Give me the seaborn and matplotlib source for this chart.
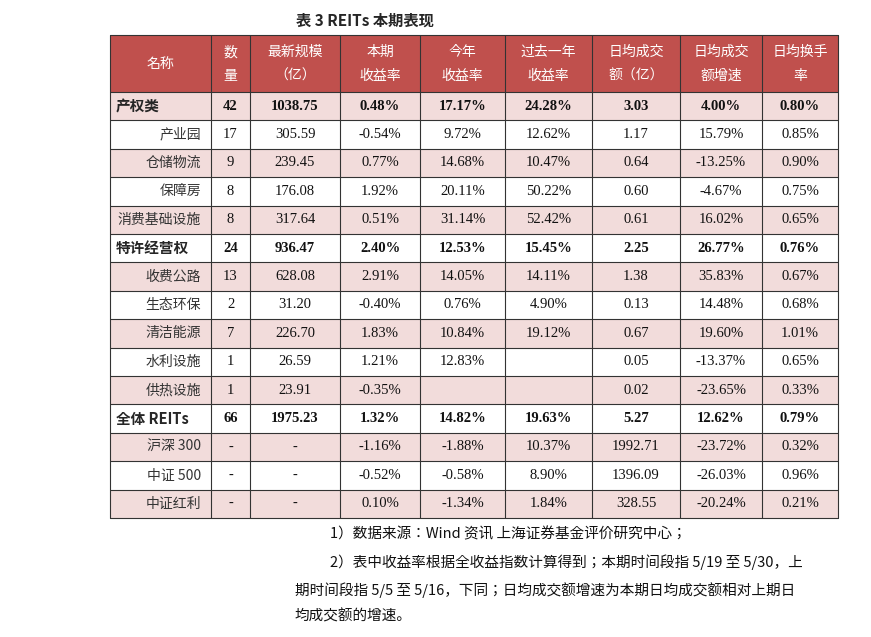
import matplotlib.pyplot as plt
import seaborn as sns
from matplotlib.patches import Rectangle
from matplotlib import font_manager as fm

sns.set_theme(style="white")
plt.rcParams["font.family"] = "Liberation Serif"

# locate a CJK font file directly
cjk_file = None
for f in fm.findSystemFonts():
    if "NotoSansCJK" in f.replace(" ", "") or "NotoSansSC" in f.replace(" ", ""):
        cjk_file = f
        if "SC" in f or ".ttc" in f:
            break
if cjk_file:
    fm.fontManager.addfont(cjk_file)
    CJK_NAME = fm.FontProperties(fname=cjk_file).get_name()
else:
    CJK_NAME = "Noto Sans CJK SC"

# table data
headers = [["名称"], ["数", "量"], ["最新规模", "（亿）"], ["本期", "收益率"], ["今年", "收益率"],
           ["过去一年", "收益率"], ["日均成交", "额（亿）"], ["日均成交", "额增速"], ["日均换手", "率"]]
names = ["产权类", "产业园", "仓储物流", "保障房", "消费基础设施", "特许经营权", "收费公路", "生态环保",
         "清洁能源", "水利设施", "供热设施", "全体 REITs", "沪深 300", "中证 500", "中证红利"]
bold_rows = {"产权类", "特许经营权", "全体 REITs"}
counts = ["42", "17", "9", "8", "8", "24", "13", "2", "7", "1", "1", "66", "-", "-", "-"]
scale = ["1038.75", "305.59", "239.45", "176.08", "317.64", "936.47", "628.08", "31.20", "226.70",
         "26.59", "23.91", "1975.23", "-", "-", "-"]
ret_period = ["0.48%", "-0.54%", "0.77%", "1.92%", "0.51%", "2.40%", "2.91%", "-0.40%", "1.83%",
              "1.21%", "-0.35%", "1.32%", "-1.16%", "-0.52%", "0.10%"]
ret_ytd = ["17.17%", "9.72%", "14.68%", "20.11%", "31.14%", "12.53%", "14.05%", "0.76%", "10.84%",
           "12.83%", "", "14.82%", "-1.88%", "-0.58%", "-1.34%"]
ret_1y = ["24.28%", "12.62%", "10.47%", "50.22%", "52.42%", "15.45%", "14.11%", "4.90%", "19.12%",
          "", "", "19.63%", "10.37%", "8.90%", "1.84%"]
turnover_amt = ["3.03", "1.17", "0.64", "0.60", "0.61", "2.25", "1.38", "0.13", "0.67", "0.05",
                "0.02", "5.27", "1992.71", "1396.09", "328.55"]
turnover_growth = ["4.00%", "15.79%", "-13.25%", "-4.67%", "16.02%", "26.77%", "35.83%", "14.48%",
                   "19.60%", "-13.37%", "-23.65%", "12.62%", "-23.72%", "-26.03%", "-20.24%"]
turnover_rate = ["0.80%", "0.85%", "0.90%", "0.75%", "0.65%", "0.76%", "0.67%", "0.68%", "1.01%",
                 "0.65%", "0.33%", "0.79%", "0.32%", "0.96%", "0.21%"]
notes = ["1）数据来源：Wind 资讯 上海证券基金评价研究中心；",
         "2）表中收益率根据全收益指数计算得到；本期时间段指 5/19 至 5/30，上",
         "期时间段指 5/5 至 5/16，下同；日均成交额增速为本期日均成交额相对上期日",
         "均成交额的增速。"]

columns = [names, counts, scale, ret_period, ret_ytd, ret_1y, turnover_amt, turnover_growth, turnover_rate]

# layout (pixels)
col_x = [110, 211, 250, 340, 420, 505, 592, 680, 762, 838]
top, head_h, row_h = 35, 57, 28.4
HEAD = "#C0504D"
PINK = "#F2DCDB"


def put(x, y, s, **kw):
    # CJK strings get the CJK font, pure latin/numbers stay serif
    if any(ord(c) > 0x2E80 for c in s):
        kw.setdefault("fontfamily", CJK_NAME)
        kw["fontsize"] = kw.get("fontsize", 10.5) - 0.5
    ax.text(x, y, s, **kw)


fig = plt.figure(figsize=(8.71, 6.37), dpi=100)
ax = fig.add_axes([0, 0, 1, 1])
ax.set_xlim(0, 871)
ax.set_ylim(637, 0)
ax.axis("off")

put(365, 21, "表 3 REITs 本期表现", ha="center", va="center", fontsize=11.5, fontweight="bold")

# header
ax.add_patch(Rectangle((col_x[0], top), col_x[-1] - col_x[0], head_h, facecolor=HEAD, edgecolor="none"))
for j, h in enumerate(headers):
    cx = (col_x[j] + col_x[j + 1]) / 2
    if len(h) == 1:
        put(cx, top + head_h / 2, h[0], ha="center", va="center", color="white", fontsize=10.5)
    else:
        put(cx, top + head_h * 0.3, h[0], ha="center", va="center", color="white", fontsize=10.5)
        put(cx, top + head_h * 0.72, h[1], ha="center", va="center", color="white", fontsize=10.5)

# body
for i, nm in enumerate(names):
    y0 = top + head_h + i * row_h
    yc = y0 + row_h / 2
    if i % 2 == 0:
        ax.add_patch(Rectangle((col_x[0], y0), col_x[-1] - col_x[0], row_h, facecolor=PINK, edgecolor="none"))
    bold = nm in bold_rows
    fw = "bold" if bold else "normal"
    for j, col in enumerate(columns):
        val = col[i]
        if j == 0:
            if bold:
                put(col_x[0] + 6, yc, val, ha="left", va="center", fontsize=11, fontweight=fw)
            else:
                put(col_x[1] - 10, yc, val, ha="right", va="center", fontsize=10.5, color="#333333")
        else:
            cx = (col_x[j] + col_x[j + 1]) / 2
            put(cx, yc, val, ha="center", va="center", fontsize=10.5, fontweight=fw, color="#111111")

# grid lines
bottom = top + head_h + len(names) * row_h
for x in col_x:
    ax.plot([x, x], [top, bottom], color="#333333", lw=0.8)
ys = [top, top + head_h] + [top + head_h + k * row_h for k in range(1, len(names) + 1)]
for y in ys:
    ax.plot([col_x[0], col_x[-1]], [y, y], color="#333333", lw=0.8)

# notes
note_x = [330, 330, 295, 295]
note_y = [534, 562, 590, 616]
for t, x, y in zip(notes, note_x, note_y):
    put(x, y, t, ha="left", va="center", fontsize=11, color="#111111")

fig.savefig("out.png", dpi=100)
